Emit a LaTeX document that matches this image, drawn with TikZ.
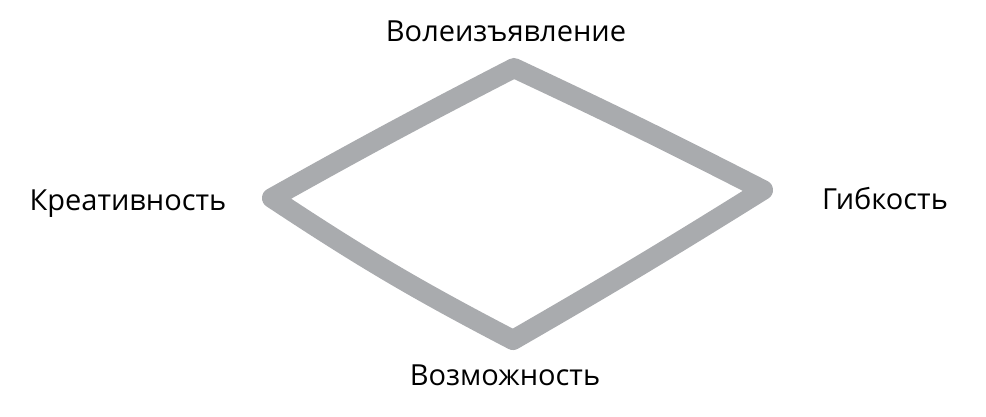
\documentclass[tikz,border=0pt]{standalone}
\usepackage{fontspec}
\setmainfont{Open Sans}
\definecolor{rimgray}{RGB}{169,171,174}
\begin{document}
\begin{tikzpicture}[x=1pt,y=-1pt,
  rim/.style={draw=rimgray,line width=20pt,line join=round,line cap=round},
  lbl/.style={font=\fontsize{29}{32}\selectfont,anchor=base,inner sep=0pt,text=black}]
\useasboundingbox (0,0) rectangle (986,416);
\coordinate (T) at (514,68);
\coordinate (L) at (272,198);
\coordinate (R) at (763,190);
\coordinate (B) at (513,340);
\draw[rim] (T) to[bend right=1] (L) to[bend right=3] (B) to[bend right=1] (R) to[bend right=1] (T) -- cycle;
\node[lbl] (top) at (506,41) {Волеизъявление};
\node[lbl] (left) at (128,210) {Креативность};
\node[lbl] (right) at (885,209) {Гибкость};
\node[lbl] (bottom) at (505,385) {Возможность};
\end{tikzpicture}
\end{document}
